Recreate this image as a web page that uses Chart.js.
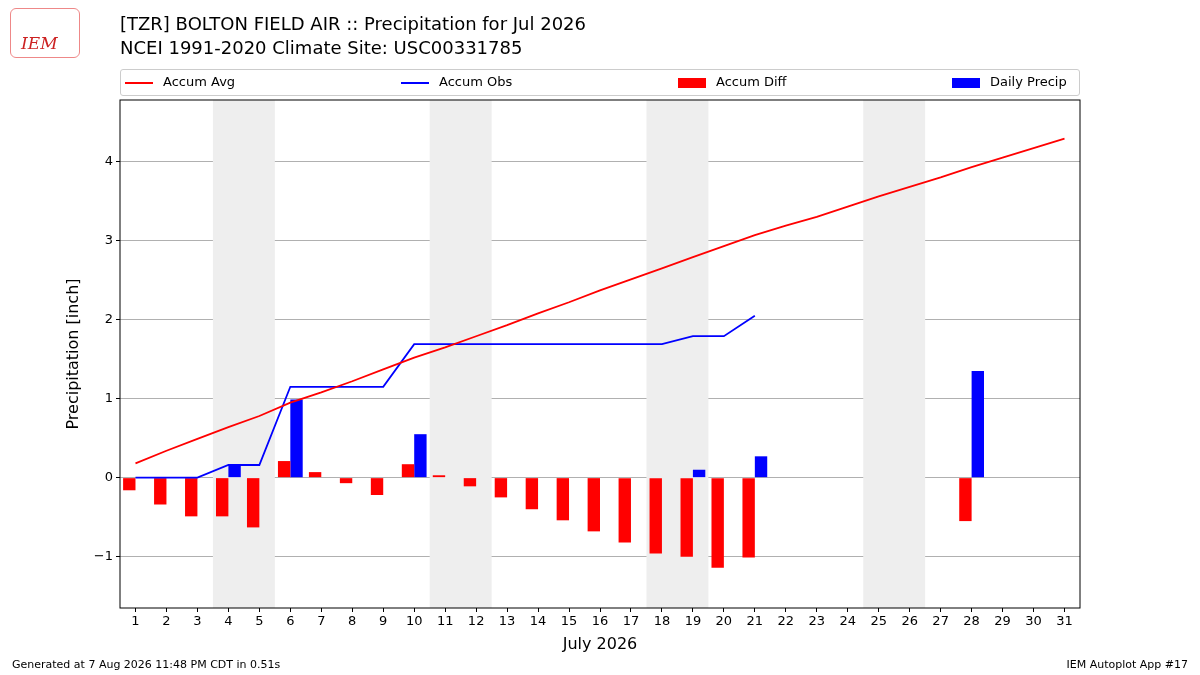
<!DOCTYPE html>
<html><head><meta charset="utf-8">
<script src="https://cdn.jsdelivr.net/npm/chart.js@4"></script>
<style>
body{margin:0;width:1200px;height:675px;position:relative;font-family:"DejaVu Sans",sans-serif;background:#fff;overflow:hidden}
#c{position:absolute;left:0;top:0}
.t{position:absolute;left:120px;font-size:18px;color:#000}
#legend{position:absolute;left:120px;top:69px;width:958px;height:25px;border:1px solid #ccc;border-radius:3px;font-size:13px}
.li{position:absolute;top:4px;white-space:nowrap}
.foot{position:absolute;top:658px;font-size:11px}
#logo{position:absolute;left:10px;top:8px;width:68px;height:48px;border:1px solid #e88;border-radius:6px;color:#c22;font-family:"DejaVu Serif",serif;font-style:italic;font-size:17px}
</style></head><body>
<canvas id="c" width="1200" height="675"></canvas>
<div id="logo"><span style="position:absolute;left:10px;top:24px">IEM</span></div>
<div class="t" style="top:13px">[TZR] BOLTON FIELD AIR :: Precipitation for Jul 2026</div>
<div class="t" style="top:37px">NCEI 1991-2020 Climate Site: USC00331785</div>
<div id="legend">
<div class="li" style="left:4px"><span style="display:inline-block;width:28px;height:2px;background:red;vertical-align:middle;margin-right:10px"></span>Accum Avg</div>
<div class="li" style="left:280px"><span style="display:inline-block;width:28px;height:2px;background:blue;vertical-align:middle;margin-right:10px"></span>Accum Obs</div>
<div class="li" style="left:557px"><span style="display:inline-block;width:28px;height:10px;background:red;vertical-align:middle;margin-right:10px"></span>Accum Diff</div>
<div class="li" style="left:831px"><span style="display:inline-block;width:28px;height:10px;background:blue;vertical-align:middle;margin-right:10px"></span>Daily Precip</div>
</div>
<div class="foot" style="left:12px">Generated at 7 Aug 2026 11:48 PM CDT in 0.51s</div>
<div class="foot" style="right:12px">IEM Autoplot App #17</div>
<script>
const days = Array.from({length:31},(_,i)=>String(i+1));
const accumAvg = [0.18,0.34,0.49,0.64,0.78,0.95,1.08,1.22,1.37,1.52,1.65,1.79,1.93,2.08,2.22,2.37,2.51,2.65,2.79,2.93,3.07,3.19,3.30,3.43,3.56,3.68,3.80,3.93,4.05,4.17,4.29];
const accumObs = [0,0,0,0.16,0.16,1.15,1.15,1.15,1.15,1.69,1.69,1.69,1.69,1.69,1.69,1.69,1.69,1.69,1.79,1.79,2.05,null,null,null,null,null,null,null,null,null,null];
const accumDiff = [-0.16,-0.34,-0.49,-0.49,-0.63,0.21,0.07,-0.07,-0.22,0.17,0.03,-0.11,-0.25,-0.40,-0.54,-0.68,-0.82,-0.96,-1.00,-1.14,-1.01,null,null,null,null,null,null,-0.55,null,null,null];
const dailyPrecip = [null,null,null,0.16,null,0.99,null,null,null,0.55,null,null,null,null,null,null,null,null,0.10,null,0.27,null,null,null,null,null,null,1.35,null,null,null];
const weekends = [[4,5],[11,12],[18,19],[25,26]];
const shade = {id:'shade',beforeDatasetsDraw(ch){
  const x=ch.scales.x,a=ch.chartArea,ctx=ch.ctx;ctx.save();ctx.fillStyle='#eeeeee';
  const w=(x.getPixelForValue(1)-x.getPixelForValue(0))/2;
  weekends.forEach(([s,e])=>{const x0=x.getPixelForValue(s-1)-w;const x1=x.getPixelForValue(e-1)+w;
    ctx.fillRect(x0,a.top,x1-x0,a.bottom-a.top);});
  ctx.restore();}};
const frame={id:'frame',afterDraw(ch){const a=ch.chartArea,c=ch.ctx;c.save();c.strokeStyle='#000';c.lineWidth=1;c.strokeRect(a.left,a.top,a.right-a.left,a.bottom-a.top);c.restore();}};
new Chart(document.getElementById('c'),{
  data:{labels:days,datasets:[
    {type:'line',label:'Accum Avg',data:accumAvg,borderColor:'red',borderWidth:1.8,pointRadius:0,order:0},
    {type:'line',label:'Accum Obs',data:accumObs,borderColor:'blue',borderWidth:1.8,pointRadius:0,spanGaps:false,order:0},
    {type:'bar',label:'Accum Diff',data:accumDiff,backgroundColor:'red',categoryPercentage:0.8,barPercentage:1,order:1},
    {type:'bar',label:'Daily Precip',data:dailyPrecip,backgroundColor:'blue',categoryPercentage:0.8,barPercentage:1,order:1}
  ]},
  options:{responsive:false,animation:false,
    layout:{padding:{left:60,right:120,top:100,bottom:17}},
    plugins:{legend:{display:false},tooltip:{enabled:false}},
    scales:{
      x:{grid:{display:true,drawOnChartArea:false,offset:false,tickLength:4,tickColor:'#000'},border:{display:false},ticks:{color:'#000',font:{size:13,family:'DejaVu Sans'},maxRotation:0,autoSkip:false,padding:2},
        title:{display:true,text:'July 2026',color:'#000',font:{size:16,family:'DejaVu Sans'},padding:{top:2}},
        afterFit(s){s.height=50;}},
      y:{min:-1.65,max:4.78,afterBuildTicks(s){s.ticks=[-1,0,1,2,3,4].map(v=>({value:v}));},
        grid:{color:'#b0b0b0',tickLength:4,tickColor:'#000'},border:{display:false},
        ticks:{color:'#000',font:{size:13,family:'DejaVu Sans'},padding:3,callback:v=>String(v).replace('-','−')},
        title:{display:true,text:'Precipitation [inch]',color:'#000',font:{size:16,family:'DejaVu Sans'}},
        afterFit(s){s.width=60;}}
    }},
  plugins:[shade,frame]
});
</script></body></html>
